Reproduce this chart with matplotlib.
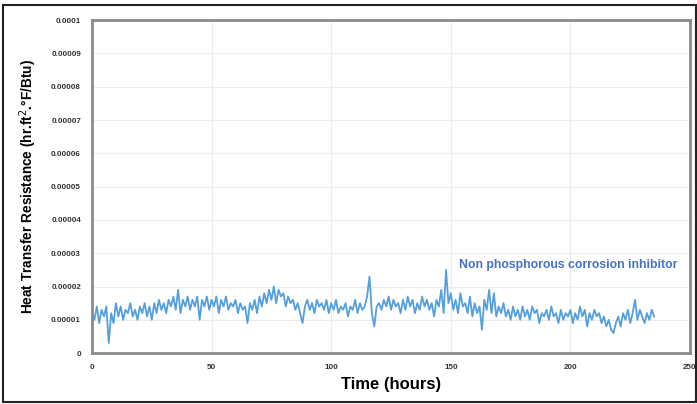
import matplotlib
matplotlib.use("Agg")
import matplotlib.pyplot as plt
import matplotlib.patches as patches
import numpy as np

# heat transfer resistance readings, one per hour, in units of 1e-6 hr.ft2.F/Btu
resistance_e6 = [
    12, 10, 14, 9, 13, 11, 14, 3, 12, 9,
    15, 11, 14, 10, 13, 12, 15, 11, 13, 10,
    14, 12, 15, 11, 14, 10, 15, 12, 16, 13,
    15, 12, 16, 14, 17, 13, 19, 12, 16, 14,
    17, 13, 16, 14, 17, 10, 16, 14, 17, 13,
    16, 14, 17, 12, 16, 14, 17, 13, 15, 14,
    16, 12, 15, 13, 14, 9, 15, 13, 16, 12,
    17, 14, 18, 15, 19, 16, 20, 15, 19, 17,
    18, 14, 17, 15, 16, 13, 15, 12, 9, 14,
    16, 13, 15, 12, 16, 14, 15, 13, 16, 12,
    15, 13, 16, 12, 14, 13, 15, 11, 14, 13,
    16, 12, 15, 13, 14, 17, 23, 12, 8, 14,
    15, 13, 16, 14, 17, 13, 16, 14, 15, 12,
    16, 13, 17, 14, 16, 12, 15, 13, 17, 14,
    16, 13, 15, 11, 16, 14, 19, 12, 25, 15,
    18, 13, 16, 12, 18, 14, 15, 12, 17, 11,
    15, 12, 14, 7, 16, 13, 19, 12, 18, 11,
    14, 12, 15, 11, 13, 10, 14, 11, 13, 10,
    14, 11, 13, 10, 14, 12, 13, 9, 12, 11,
    13, 10, 14, 11, 12, 9, 13, 10, 12, 11,
    13, 9, 12, 10, 14, 11, 13, 8, 12, 10,
    13, 11, 12, 9, 11, 8, 10, 7, 6, 9,
    11, 8, 12, 10, 13, 9, 12, 16, 10, 13,
    11, 9, 12, 10, 13, 11,
]
hours = np.arange(len(resistance_e6))
resistance = np.array(resistance_e6) * 1e-6

x_ticks = [0, 50, 100, 150, 200, 250]
y_ticks = [0, 0.00001, 0.00002, 0.00003, 0.00004, 0.00005,
           0.00006, 0.00007, 0.00008, 0.00009, 0.0001]
y_tick_labels = ["0", "0.00001", "0.00002", "0.00003", "0.00004", "0.00005",
                 "0.00006", "0.00007", "0.00008", "0.00009", "0.0001"]

LINE_COLOUR = "#55a0dc"
NOTE_COLOUR = "#4472c4"
SPINE_COLOUR = "#8a8a8a"
GRID_COLOUR = "#ececec"

plt.rcParams["font.family"] = ["Liberation Sans", "DejaVu Sans"]

fig = plt.figure(figsize=(6.97, 4.04), dpi=100)
ax = fig.add_axes([0.132, 0.126, 0.858, 0.824])

ax.plot(hours, resistance, color=LINE_COLOUR, linewidth=1.3)

ax.set_xlim(0, 250)
ax.set_ylim(0, 0.0001)
ax.set_xticks(x_ticks)
ax.set_yticks(y_ticks)
ax.set_yticklabels(y_tick_labels)
ax.tick_params(length=0, labelsize=5.8, pad=8, colors="#333333")
for lbl in ax.get_xticklabels() + ax.get_yticklabels():
    lbl.set_fontweight("bold")

ax.grid(True, color=GRID_COLOUR, linewidth=0.8)
ax.set_axisbelow(True)
for side in ax.spines.values():
    side.set_color(SPINE_COLOUR)
    side.set_linewidth(2)

ax.set_xlabel("Time (hours)", fontsize=12, fontweight="bold", labelpad=4)
ax.set_ylabel("Heat Transfer Resistance (hr.ft$^{2}$.°F/Btu)", fontsize=9.8,
              fontweight="bold", labelpad=9)

ax.text(153.5, 0.0000266, "Non phosphorous corrosion inhibitor", color=NOTE_COLOUR,
        fontsize=8.8, fontweight="bold", va="center")

# thin black frame round the whole picture
fig.patches.append(patches.Rectangle((0.005, 0.006), 0.993, 0.982, transform=fig.transFigure,
                                     fill=False, edgecolor="#222222", linewidth=1.5))

fig.savefig("out.png", dpi=100)
